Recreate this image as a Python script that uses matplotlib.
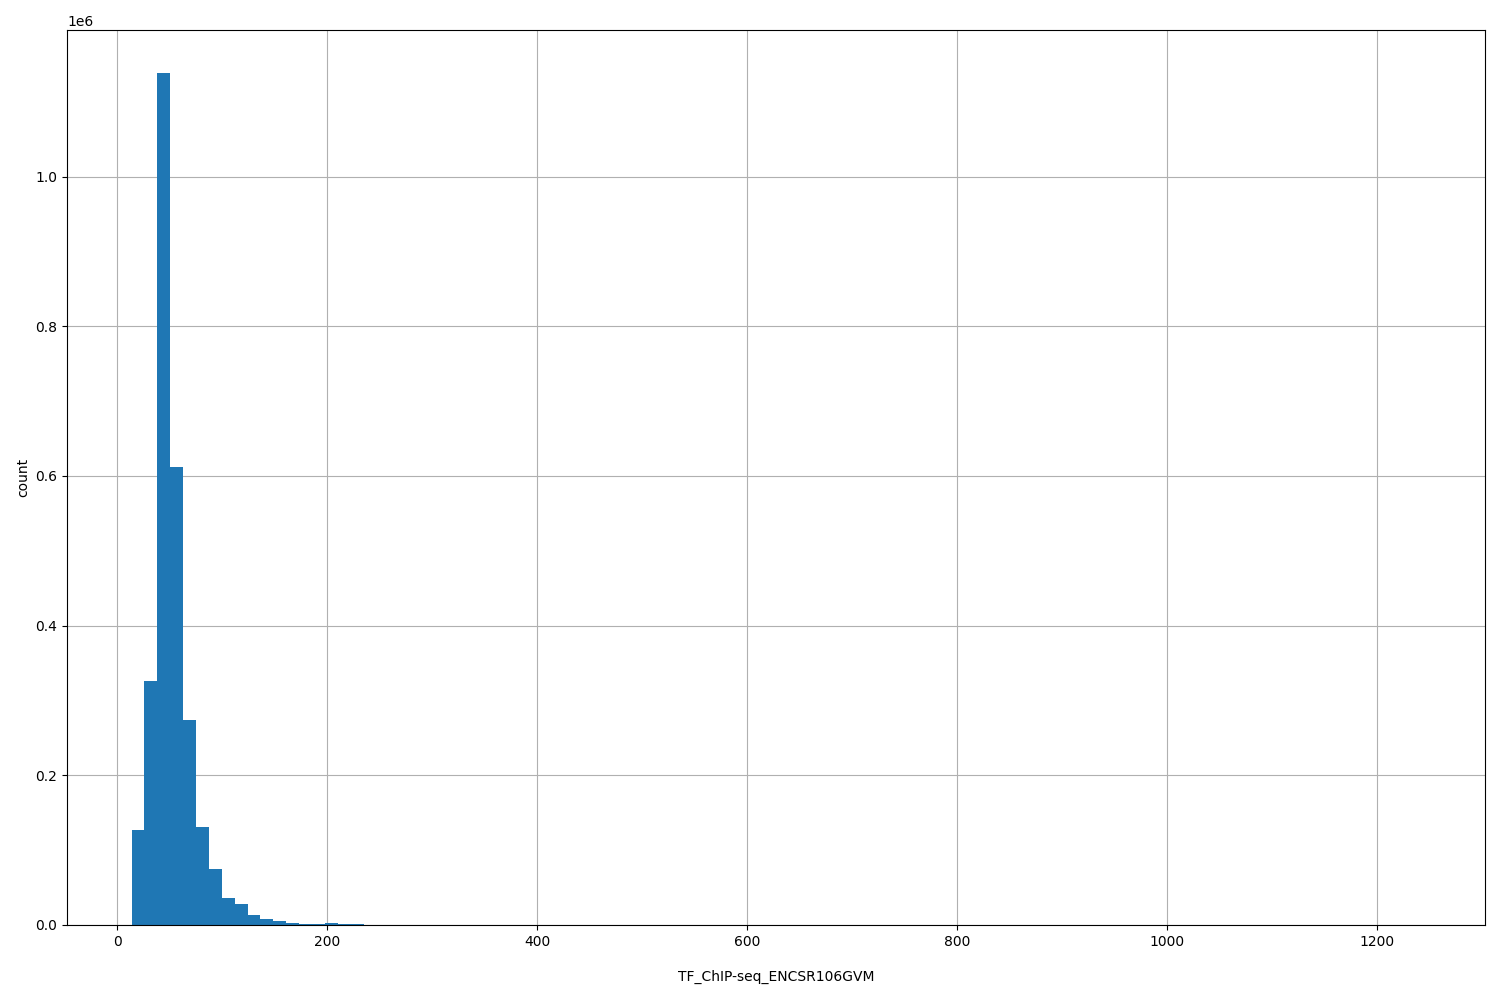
import numpy as np
import matplotlib
matplotlib.use("Agg")
from matplotlib import pyplot as plt

# histogram of signal values, 100 bins between min and max
lo, hi = 13.8, 1241.5
counts_head = [127000, 326000, 1139000, 612000, 274000, 131000, 75000, 36000,
               28000, 13400, 8000, 5300, 2700, 1300, 1300, 2700, 1300, 1300]
counts_tail = [300, 200, 150, 100, 80, 60, 40, 30, 20, 15, 10, 8, 6, 5, 4, 3,
               2, 2, 1, 1]
nbins = 100
counts = counts_head + counts_tail + [0] * (nbins - len(counts_head) - len(counts_tail) - 1) + [1]

edges = np.linspace(lo, hi, nbins + 1)

fig = plt.figure(figsize=(15, 10), dpi=100)
ax = fig.add_axes([0.0447, 0.075, 0.9453, 0.895])
ax.hist(edges[:-1], bins=edges, weights=counts, color="#1f77b4")
ax.grid(True)
ax.set_axisbelow(True)
ax.set_xlabel("TF_ChIP-seq_ENCSR106GVM", labelpad=15)
ax.set_ylabel("count")

fig.savefig("out.png")
